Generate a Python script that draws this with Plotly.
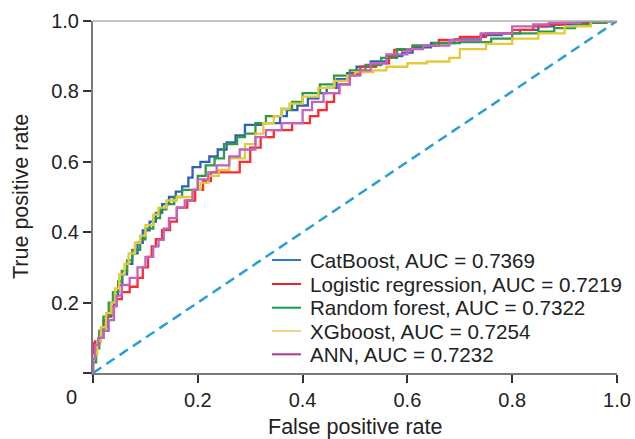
import plotly.graph_objects as go

# ---- data ----
cat_fpr = [0, 0.004, 0.012, 0.02, 0.028, 0.035, 0.04, 0.048, 0.056, 0.065, 0.075, 0.085, 0.095, 0.108, 0.12, 0.132, 0.145, 0.158, 0.17, 0.182, 0.19, 0.205, 0.222, 0.238, 0.255, 0.272, 0.29, 0.32, 0.357, 0.37, 0.39, 0.41, 0.43, 0.446, 0.465, 0.485, 0.503, 0.53, 0.56, 0.59, 0.61, 0.645, 0.69, 0.74, 0.78, 0.815, 0.85, 0.88, 0.92, 0.95, 0.98, 1.0]
cat_tpr = [0, 0.05, 0.085, 0.10, 0.13, 0.16, 0.19, 0.22, 0.25, 0.28, 0.31, 0.34, 0.37, 0.405, 0.43, 0.455, 0.48, 0.50, 0.515, 0.53, 0.555, 0.585, 0.60, 0.615, 0.635, 0.655, 0.675, 0.705, 0.71, 0.73, 0.747, 0.76, 0.78, 0.795, 0.81, 0.835, 0.852, 0.87, 0.885, 0.9, 0.91, 0.925, 0.9375, 0.948, 0.96, 0.965, 0.975, 0.985, 0.99, 0.995, 1.0, 1.0]

lr_fpr = [0, 0.004, 0.015, 0.02, 0.028, 0.035, 0.045, 0.055, 0.07, 0.085, 0.095, 0.105, 0.112, 0.12, 0.132, 0.147, 0.16, 0.18, 0.195, 0.21, 0.225, 0.255, 0.28, 0.3, 0.32, 0.345, 0.38, 0.414, 0.43, 0.446, 0.46, 0.47, 0.49, 0.51, 0.54, 0.565, 0.575, 0.61, 0.66, 0.7, 0.75, 0.8, 0.84, 0.866, 0.9, 0.94, 0.97, 1.0]
lr_tpr = [0, 0.085, 0.09, 0.12, 0.15, 0.165, 0.19, 0.21, 0.23, 0.245, 0.27, 0.30, 0.33, 0.36, 0.38, 0.406, 0.43, 0.47, 0.49, 0.52, 0.545, 0.57, 0.57, 0.6, 0.64, 0.67, 0.69, 0.71, 0.73, 0.747, 0.77, 0.795, 0.82, 0.85, 0.87, 0.88, 0.9, 0.918, 0.93, 0.946, 0.955, 0.965, 0.975, 0.985, 0.99, 0.995, 1.0, 1.0]

rf_fpr = [0, 0.006, 0.012, 0.02, 0.03, 0.038, 0.048, 0.055, 0.065, 0.075, 0.09, 0.1, 0.115, 0.128, 0.14, 0.155, 0.17, 0.2, 0.215, 0.232, 0.25, 0.275, 0.29, 0.31, 0.33, 0.36, 0.38, 0.4, 0.433, 0.46, 0.49, 0.52, 0.55, 0.58, 0.61, 0.65, 0.7, 0.76, 0.8, 0.85, 0.88, 0.92, 0.95, 0.98, 1.0]
rf_tpr = [0, 0.03, 0.07, 0.12, 0.16, 0.2, 0.23, 0.26, 0.29, 0.32, 0.35, 0.38, 0.41, 0.44, 0.465, 0.48, 0.5, 0.52, 0.56, 0.59, 0.61, 0.65, 0.67, 0.68, 0.71, 0.73, 0.75, 0.77, 0.795, 0.82, 0.845, 0.86, 0.875, 0.895, 0.92, 0.93, 0.937, 0.94, 0.95, 0.965, 0.97, 0.98, 0.99, 0.995, 1.0]

xgb_fpr = [0, 0.008, 0.015, 0.025, 0.035, 0.042, 0.05, 0.06, 0.068, 0.08, 0.09, 0.1, 0.115, 0.125, 0.14, 0.16, 0.19, 0.205, 0.22, 0.24, 0.26, 0.29, 0.31, 0.325, 0.345, 0.36, 0.375, 0.4, 0.43, 0.46, 0.485, 0.5, 0.535, 0.56, 0.6, 0.637, 0.68, 0.7, 0.75, 0.8, 0.85, 0.9, 0.95, 1.0]
xgb_tpr = [0, 0.05, 0.09, 0.13, 0.17, 0.2, 0.24, 0.28, 0.31, 0.34, 0.37, 0.39, 0.42, 0.45, 0.47, 0.49, 0.5, 0.52, 0.54, 0.56, 0.577, 0.61, 0.65, 0.68, 0.71, 0.73, 0.75, 0.765, 0.785, 0.81, 0.83, 0.845, 0.855, 0.86, 0.87, 0.88, 0.885, 0.895, 0.92, 0.935, 0.95, 0.965, 0.985, 1.0]

ann_fpr = [0, 0.004, 0.01, 0.02, 0.03, 0.04, 0.045, 0.055, 0.07, 0.085, 0.1, 0.115, 0.125, 0.135, 0.145, 0.16, 0.175, 0.19, 0.2, 0.22, 0.236, 0.26, 0.28, 0.31, 0.33, 0.36, 0.4, 0.418, 0.44, 0.47, 0.49, 0.51, 0.53, 0.56, 0.6, 0.63, 0.68, 0.74, 0.8, 0.84, 0.87, 0.93, 1.0]
ann_tpr = [0, 0.04, 0.08, 0.1, 0.12, 0.15, 0.19, 0.22, 0.25, 0.27, 0.3, 0.33, 0.36, 0.378, 0.41, 0.44, 0.47, 0.49, 0.52, 0.55, 0.57, 0.59, 0.615, 0.635, 0.67, 0.69, 0.71, 0.747, 0.77, 0.795, 0.82, 0.845, 0.86, 0.88, 0.905, 0.92, 0.93, 0.945, 0.965, 0.985, 0.99, 0.995, 1.0]

chance_x = [0, 1]
chance_y = [0, 1]

model_names = ["CatBoost, AUC = 0.7369", "Logistic regression, AUC = 0.7219",
               "Random forest, AUC = 0.7322", "XGboost, AUC = 0.7254", "ANN, AUC = 0.7232"]
line_colors = ["#2f5fbf", "#ff2b2b", "#2e9a44", "#e2cc35", "#c064c0"]
legend_colors = ["#2a7bc2", "#ee2229", "#159a55", "#eed68e", "#b2388f"]

x_tickvals = [0, 0.2, 0.4, 0.6, 0.8, 1.0]
x_ticktext = ["", "0.2", "0.4", "0.6", "0.8", "1.0"]
y_tickvals = [0, 0.2, 0.4, 0.6, 0.8, 1.0]
y_ticktext = ["", "0.2", "0.4", "0.6", "0.8", "1.0"]

series = [(cat_fpr, cat_tpr), (lr_fpr, lr_tpr), (rf_fpr, rf_tpr), (xgb_fpr, xgb_tpr), (ann_fpr, ann_tpr)]

FONT = "Liberation Sans, Arial, sans-serif"
TXT = "#222222"
W, H = 635, 439
ML, MR, MT, MB = 93, 18, 21, 66
PW, PH = W - ML - MR, H - MT - MB


def px2paper_x(px):
    return (px - ML) / PW


def px2paper_y(py):
    return (H - MB - py) / PH


fig = go.Figure()

fig.add_trace(go.Scatter(x=chance_x, y=chance_y, mode="lines", showlegend=False,
                         line=dict(color="#2b9fd5", width=2.5, dash="10px,6px"), hoverinfo="skip"))

for (fx, ty), col, nm in zip(series, line_colors, model_names):
    fig.add_trace(go.Scatter(x=fx, y=ty, mode="lines", line_shape="vh", showlegend=False,
                             name=nm, line=dict(color=col, width=2.3)))

# legend drawn manually to match the compact row spacing of the reference
shapes = [dict(type="line", xref="paper", yref="paper", x0=0, x1=1, y0=1, y1=1,
               line=dict(color="#b0b0b0", width=1.5))]
annotations = []
legend_rows_py = [260, 284, 307.7, 331, 354.3]
for nm, col, py in zip(model_names, legend_colors, legend_rows_py):
    yp = px2paper_y(py)
    shapes.append(dict(type="line", xref="paper", yref="paper",
                       x0=px2paper_x(272), x1=px2paper_x(301), y0=yp, y1=yp,
                       line=dict(color=col, width=2)))
    annotations.append(dict(text=nm, xref="paper", yref="paper", x=px2paper_x(308), y=yp,
                            xanchor="left", yanchor="middle", showarrow=False,
                            font=dict(size=20.6, color=TXT, family=FONT)))

# axis titles and the corner "0"
annotations.append(dict(text="False positive rate", xref="paper", yref="paper",
                        x=0.5, y=px2paper_y(427), xanchor="center", yanchor="middle",
                        showarrow=False, font=dict(size=21.5, color=TXT, family=FONT)))
annotations.append(dict(text="True positive rate", xref="paper", yref="paper",
                        x=px2paper_x(21), y=0.5, xanchor="center", yanchor="middle", textangle=-90,
                        showarrow=False, font=dict(size=21.5, color=TXT, family=FONT)))
annotations.append(dict(text="0", xref="paper", yref="paper", x=px2paper_x(71.5), y=px2paper_y(397),
                        xanchor="center", yanchor="middle", showarrow=False,
                        font=dict(size=20, color=TXT, family=FONT)))

axis_common = dict(range=[0, 1], showgrid=False, zeroline=False, showline=True,
                   linecolor="#7a7a7a", linewidth=2, ticks="outside", ticklen=8,
                   tickwidth=1.5, tickcolor="#333333", automargin=False, fixedrange=True,
                   tickfont=dict(size=20, color=TXT, family=FONT))

fig.update_layout(
    width=W, height=H,
    margin=dict(l=ML, r=MR, t=MT, b=MB, autoexpand=False),
    paper_bgcolor="white", plot_bgcolor="white",
    font=dict(family=FONT, size=20, color=TXT),
    showlegend=False,
    xaxis=dict(tickvals=x_tickvals, ticktext=x_ticktext, **axis_common),
    yaxis=dict(tickvals=y_tickvals, ticktext=y_ticktext, **axis_common),
    shapes=shapes,
    annotations=annotations,
)

fig.write_html("out.html", config={"displayModeBar": False},
               post_script="document.body.style.margin='0px';document.body.style.overflow='hidden';")
